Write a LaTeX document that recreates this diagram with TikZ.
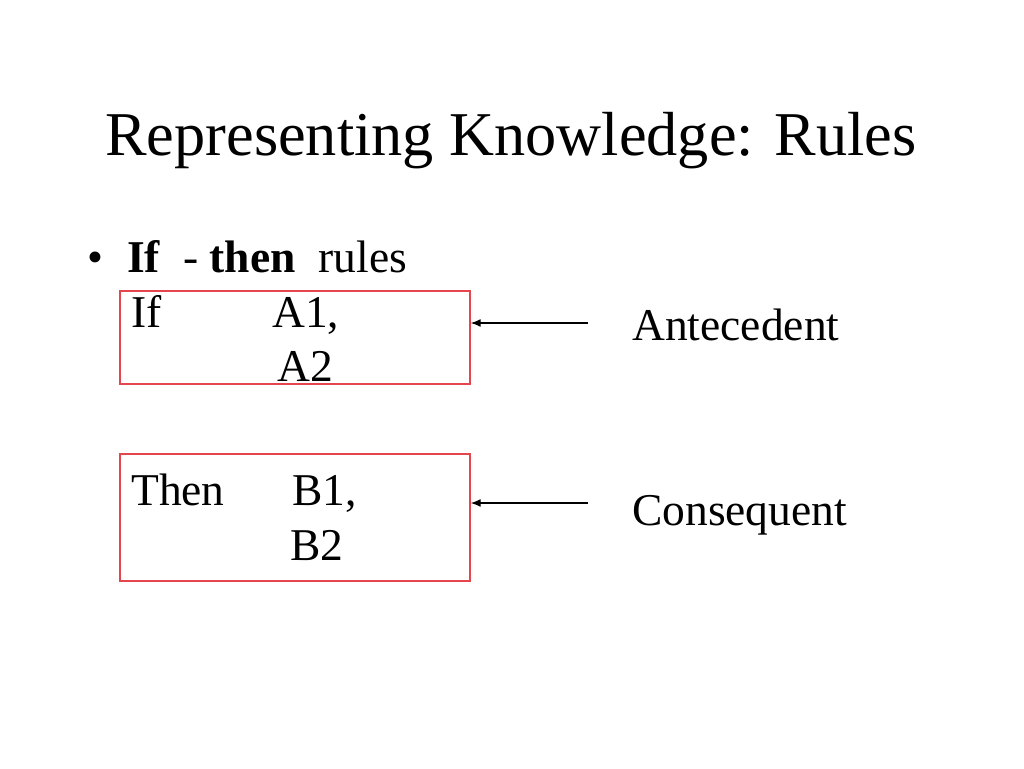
\documentclass[tikz,border=0pt]{standalone}
\usepackage{fontspec}
\setmainfont{Liberation Serif}
\usetikzlibrary{arrows.meta}
\definecolor{boxred}{HTML}{E5464E}
\tikzset{
  titletext/.style={inner sep=0pt, anchor=base, font=\fontsize{62.3}{74}\selectfont},
  bodytext/.style={inner sep=0pt, anchor=base west, font=\fontsize{45.5}{54.6}\selectfont},
  rulebox/.style={draw=boxred, line width=1.7pt, inner sep=0pt, anchor=north west},
  pointer/.style={-{Latex[length=10pt,width=8pt]}, line width=1.4pt, black},
}
\begin{document}
\begin{tikzpicture}[x=1pt,y=-1pt]
\useasboundingbox (0,0) rectangle (1024,768);
% title
\node[titletext] (title) at (511,155) {Representing Knowledge: Rules};
% bullet line
\node[bodytext] (bullet) at (87,272) {\textbullet};
\node[bodytext] (head) at (127,272) {\textbf{If}\ \ -\ \textbf{then}\ \ rules};
% boxes
\node[rulebox, minimum width=350pt, minimum height=93pt] (box1) at (119,290) {};
\node[rulebox, minimum width=350pt, minimum height=127pt] (box2) at (119,453) {};
% box contents
\node[bodytext] (if) at (131,327) {If};
\node[bodytext] (a1) at (272,327) {A1,};
\node[bodytext] (a2) at (277,381) {A2};
\node[bodytext] (then) at (131,505) {Then};
\node[bodytext] (b1) at (292,505) {B1,};
\node[bodytext] (b2) at (290,560) {B2};
% labels
\node[bodytext] (ante) at (632,340) {Antecedent};
\node[bodytext] (cons) at (632,525) {Consequent};
% arrows
\coordinate (s1) at (588,323);
\coordinate (s2) at (588,503);
\draw[pointer] (s1) -- (s1 -| box1.east);
\draw[pointer] (s2) -- (s2 -| box2.east);
\end{tikzpicture}
\end{document}
